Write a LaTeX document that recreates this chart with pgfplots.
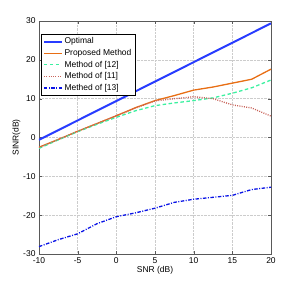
\documentclass[border=0pt]{standalone}
\usepackage{pgfplots}
\pgfplotsset{compat=1.18}
\usepackage{fontspec}
\setmainfont{Liberation Sans}
\definecolor{optc}{RGB}{40,60,255}
\definecolor{propc}{RGB}{232,110,20}
\definecolor{m12c}{RGB}{60,240,160}
\definecolor{m11c}{RGB}{200,100,90}
\definecolor{m13c}{RGB}{10,20,230}
\begin{document}
\begin{tikzpicture}
\begin{axis}[
  name=ax,
  scale only axis,
  width=232bp, height=233bp,
  xmin=-10, xmax=20, ymin=-30, ymax=30,
  xtick={-10,-5,0,5,10,15,20},
  ytick={-30,-20,-10,0,10,20,30},
  tick align=inside,
  tick pos=both,
  major tick length=3bp,
  grid=major,
  grid style={densely dotted, gray!40},
  axis line style={gray!70!black},
  tick style={gray!70!black},
  /pgf/number format/assume math mode=true,
  ticklabel style={font=\fontsize{8.5}{9}\selectfont},
  xlabel={SNR (dB)},
  ylabel={SINR(dB)},
  label style={font=\fontsize{8.5}{9}\selectfont},
  xlabel style={yshift=4bp},
  ylabel style={yshift=-4bp},
  legend style={at={(rel axis cs:0.01,0.944)}, anchor=north west,
    font=\fontsize{8.5}{9}\selectfont, draw=black, inner sep=1.5pt,
    row sep=0pt, cells={anchor=west}},
  legend image code/.code={\draw[#1] (0cm,0cm) -- (0.62cm,0cm);},
]
\addplot[optc, line width=2pt] coordinates {(-10,-0.6) (-5,4.4) (0,9.4) (5,14.4) (10,19.4) (15,24.4) (20,29.4)};
\addlegendentry{Optimal}
\addplot[propc, line width=1.3pt] coordinates {(-10,-2.5) (-7.5,-0.5) (-5,1.6) (-2.5,3.6) (0,5.6) (2.5,7.7) (5,9.5) (7.5,10.8) (10,12.2) (12.5,13.0) (15,14.0) (17.5,15.0) (20,17.6)};
\addlegendentry{Proposed Method}
\addplot[m12c, line width=1.3pt, dash pattern=on 3.5pt off 2.5pt] coordinates {(-10,-2.8) (-7.5,-0.6) (-5,1.5) (-2.5,3.4) (0,5.2) (2.5,6.9) (5,8.2) (7.5,8.9) (10,9.5) (12.5,10.2) (15,11.4) (17.5,12.8) (20,14.8)};
\addlegendentry{Method of [12]}
\addplot[m11c, line width=1.3pt, dash pattern=on 1pt off 1.3pt] coordinates {(-10,-2.6) (-7.5,-0.5) (-5,1.6) (-2.5,3.6) (0,5.6) (2.5,7.6) (5,9.4) (7.5,10.0) (10,10.5) (12.5,10.0) (15,8.4) (17.5,7.6) (20,5.5)};
\addlegendentry{Method of [11]}
\addplot[m13c, line width=1.3pt, dash pattern=on 3.5pt off 1.5pt on 1pt off 1.5pt] coordinates {(-10,-28.1) (-7.5,-26.3) (-5,-24.8) (-2.5,-22.2) (0,-20.4) (2.5,-19.4) (5,-18.2) (7.5,-16.7) (10,-15.9) (12.5,-15.4) (15,-14.9) (17.5,-13.4) (20,-12.8)};
\addlegendentry{Methed of [13]}
\end{axis}
\path (ax.south west) ++(-39bp,-32bp) rectangle ++(300bp,286bp);
\end{tikzpicture}
\end{document}
